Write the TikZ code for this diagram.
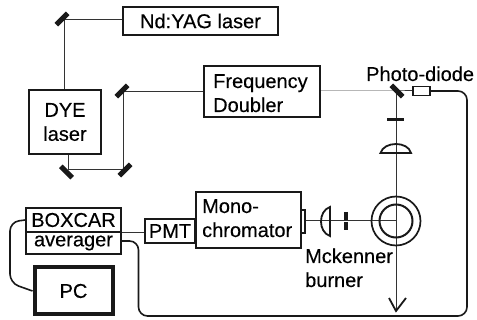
\documentclass[tikz,border=0pt]{standalone}
\usepackage{fontspec}
\setmainfont[FakeBold=0.3]{Liberation Sans}
\begin{document}
\begin{tikzpicture}[x=1pt,y=-1pt,
  lbl/.style={font=\fontsize{20}{24}\selectfont,text=black,inner sep=0pt},
  boxn/.style={draw=black!90,line width=1.7pt,fill=white,inner sep=0pt,align=center,font=\fontsize{20}{24}\selectfont,text=black},
  mirror/.style={fill=black!90,minimum width=16pt,minimum height=5pt,inner sep=0pt},
  beam/.style={draw=black!80,line width=1pt},
  cable/.style={draw=black!90,line width=1.6pt,rounded corners=9pt},
  optic/.style={draw=black!90,line width=1.8pt}]
\useasboundingbox (0,0) rectangle (477,320);
\coordinate (c1) at (64.5,20);
\coordinate (c2) at (123.5,92);
\coordinate (c3) at (68,169.5);
\coordinate (c4) at (123.5,169.5);
\coordinate (c5) at (396,91);
\coordinate (beamend) at (396,311);
\coordinate (focus) at (396,221);
\coordinate (arrowL) at (389,298);
\coordinate (arrowR) at (406,298);
% beams
\draw[beam] (c1) -- (123,20);
\draw[beam] (c1) -- (64.5,90);
\draw[beam] (68,154) -- (c3) -- (c4) -- (c2) -- (204,92);
\draw[beam] (320,91) -- (c5) -- (413,91);
\draw[beam] (c5) -- (beamend);
\draw[beam] (301,221) -- (focus);
% boxes
\node[boxn,minimum width=155pt,minimum height=28pt] (yag) at (200.5,21) {Nd:YAG laser};
\node[boxn,minimum width=72pt,minimum height=64pt] (dye) at (65,122) {DYE\\laser};
\node[boxn,minimum width=116pt,minimum height=51pt] (freq) at (262,91.5) {};
\node[lbl,anchor=base west] (freqa) at (213,88) {Frequency};
\node[lbl,anchor=base west] (freqb) at (213,112) {Doubler};
\node[boxn,minimum width=105pt,minimum height=56pt] (mono) at (248.5,220) {};
\node[lbl,anchor=base west] (monoa) at (202,213) {Mono-};
\node[lbl,anchor=base west] (monob) at (202,237) {chromator};
\node[boxn,minimum width=50pt,minimum height=24pt] (pmt) at (170,231) {PMT};
\node[boxn,minimum width=95pt,minimum height=24pt] (boxcar) at (73.5,220) {BOXCAR};
\node[boxn,minimum width=95pt,minimum height=22pt] (avg) at (73.5,243) {averager};
\node[boxn,line width=4pt,minimum width=78pt,minimum height=47pt] (pc) at (73.5,291) {PC};
\node[draw=black!90,fill=white,line width=1.5pt,minimum width=17pt,minimum height=9pt,inner sep=0pt] (pd) at (421.5,91) {};
\node[draw=black!90,fill=white,line width=1.2pt,minimum width=4pt,minimum height=23pt,inner sep=0pt] (slitm) at (303,221.5) {};
% cables
\draw[beam,line width=1.3pt] (boxcar.south east) -- (pmt.west |- boxcar.south);
\draw[cable] (avg.east |- 0,241) -- (138.5,241) -- (138.5,316) -- (467,316) -- (467,91) -- (pd.east);
\draw[cable] (boxcar.west) -- (10,222) -- (10,283) -- (pc.west);
% mirrors
\node[mirror,rotate=45] (m1) at (62,19) {};
\node[mirror,rotate=45] (m2) at (122,91) {};
\node[mirror,rotate=-45] (m3) at (66.5,172) {};
\node[mirror,rotate=45] (m4) at (125,170) {};
\node[mirror,rotate=-45] (m5) at (397,91) {};
% optics
\draw[optic,line width=3pt] (387,119.5) -- (404,119.5);
\draw[optic] (380.5,153) .. controls (384,141) and (408,141) .. (411,153) -- cycle;
\draw[optic] (330,207) .. controls (318,211) and (318,232) .. (330,236) -- cycle;
\draw[optic,line width=3.5pt] (346,212) -- (346,220);
\draw[optic,line width=3.5pt] (346,222) -- (346,230);
% burner
\node[circle,draw=black!90,line width=1.7pt,minimum size=49pt,inner sep=0pt] (outer) at (focus) {};
\node[circle,draw=black!90,line width=2pt,minimum size=33pt,inner sep=0pt] (inner) at (focus) {};
\draw[optic,line join=miter] (arrowL) -- (beamend) -- (arrowR);
% labels
\node[lbl,anchor=base west] (pdl) at (366,81) {Photo-diode};
\node[lbl,anchor=base west] (mck) at (305,263) {Mckenner};
\node[lbl,anchor=base west] (brn) at (305,287) {burner};
\end{tikzpicture}
\end{document}
